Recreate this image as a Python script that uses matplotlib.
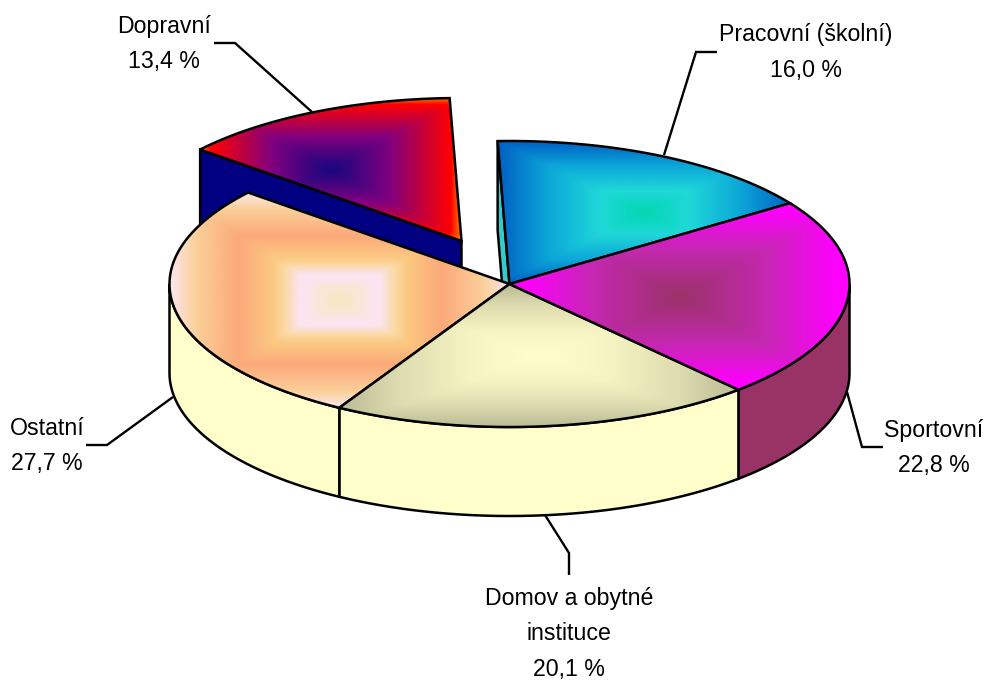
import numpy as np
import matplotlib
matplotlib.use("Agg")
import matplotlib.pyplot as plt
from matplotlib.path import Path
from matplotlib.patches import PathPatch
from matplotlib.colors import LinearSegmentedColormap

# --- data ---
categories = ["Pracovní (školní)", "Sportovní", "Domov a obytné\ninstituce", "Ostatní", "Dopravní"]
values = [16.0, 22.8, 20.1, 27.7, 13.4]

# --- style / layout ---
value_labels = ["16,0 %", "22,8 %", "20,1 %", "27,7 %", "13,4 %"]
label_xy = [(806, 52.5), (934, 448), (569, 634), (47, 446), (164, 44)]
leaders = [
    [(717, 52), (696, 52), (664, 155)],
    [(883, 447), (862, 447), (847, 392)],
    [(569, 575), (569, 553), (545, 515)],
    [(86, 445), (107, 445), (173, 397)],
    [(214, 43), (235, 43), (312, 112)],
]
side_colors = ["#33CCCC", "#993366", "#FFFFCC", "#FFFFCC", "#000080"]
gradients = [
    [(0, "#05D5B0"), (.12, "#0CD8C0"), (.30, "#20D8D8"), (.65, "#0CA8D8"), (1, "#0060C4")],
    [(0, "#993366"), (.5, "#C428B0"), (.92, "#FF00FF"), (1, "#FF00FF")],
    [(0, "#FFFFCC"), (.35, "#F6F4C2"), (.7, "#DEDCB0"), (.95, "#C0C09A"), (1, "#C0C09A")],
    [(0, "#F5E8C0"), (.12, "#FAE6D8"), (.2, "#FBE4F0"), (.24, "#FBE4F0"), (.33, "#FBD8A0"), (.40, "#FBC880"),
     (.6, "#FBA97A"), (.85, "#FBD09A"), (1, "#FDE6EE")],
    [(0, "#14087E"), (.45, "#800080"), (.92, "#FF0000"), (1, "#FF8000")],
]
CX, CY, RX, RY, DEPTH = 509.5, 284.0, 340.0, 143.0, 89.0
START = 92.0
EXPLODE = {4: (-48.0, -43.0)}
LW = 1.8

plt.rcParams["font.family"] = ["Liberation Sans", "DejaVu Sans"]
fig = plt.figure(figsize=(9.87, 6.8), dpi=100)
ax = fig.add_axes([0, 0, 1, 1])


def arc(t0, t1, ox=0.0, oy=0.0, dy=0.0):
    n = max(int(abs(t1 - t0)) * 2, 2)
    t = np.radians(np.linspace(t0, t1, n))
    return np.column_stack([CX + ox + RX * np.cos(t), CY + oy + dy - RY * np.sin(t)])


def poly(pts, fc, z, lw=LW):
    p = PathPatch(Path(np.vstack([pts, pts[:1]]), closed=True), fc=fc, ec="black", lw=lw,
                  joinstyle="miter", zorder=z)
    ax.add_patch(p)
    return p


def soften(d, k):
    kern = np.ones(k) / k
    pad = k
    out = np.pad(d, pad, mode="edge")
    out = np.apply_along_axis(lambda r: np.convolve(r, kern, mode="same"), 0, out)
    out = np.apply_along_axis(lambda r: np.convolve(r, kern, mode="same"), 1, out)
    return out[pad:-pad, pad:-pad]


def gradient_wedge(pts, stops, z):
    x0, y0 = pts.min(axis=0)
    x1, y1 = pts.max(axis=0)
    w, h = int(x1 - x0) + 2, int(y1 - y0) + 2
    xs = np.linspace(-1, 1, w)
    ys = np.linspace(-1, 1, h)
    d = np.maximum(np.abs(xs)[None, :], np.abs(ys)[:, None])
    d = soften(d, 9)
    cmap = LinearSegmentedColormap.from_list("g", stops, N=512)
    patch = poly(pts, "none", z + 0.1)
    clip = PathPatch(Path(np.vstack([pts, pts[:1]]), closed=True), fc="none", ec="none",
                     transform=ax.transData)
    im = ax.imshow(d, cmap=cmap, vmin=0, vmax=1, extent=(x0, x1, y1, y0), aspect="auto",
                   zorder=z, interpolation="bilinear")
    im.set_clip_path(clip)
    return patch


# sector angles, clockwise from START
edges = START - np.cumsum([0] + [v / sum(values) * 360 for v in values])

# visible cut faces at the back
for i in [4, 0]:
    ox, oy = EXPLODE.get(i, (0, 0))
    a0 = np.radians(edges[i])
    e = np.array([CX + ox + RX * np.cos(a0), CY + oy - RY * np.sin(a0)])
    apex = np.array([CX + ox, CY + oy])
    face = np.array([e, apex, apex + [0, DEPTH], e + [0, DEPTH]])
    poly(face, side_colors[i], 2 + i * 0.1)

# rim faces of the front half
for i in [1, 2, 3]:
    a0, a1 = edges[i], edges[i + 1]
    lo = max(a1, -180)
    hi = min(a0, 0)
    top = arc(hi, lo)
    bot = arc(lo, hi, dy=DEPTH)
    poly(np.vstack([top, bot]), side_colors[i], 3)

# top surfaces
for i, z in zip([4, 0, 3, 2, 1], [2.5, 2.6, 4, 5, 6]):
    ox, oy = EXPLODE.get(i, (0, 0))
    pts = np.vstack([[[CX + ox, CY + oy]], arc(edges[i], edges[i + 1], ox, oy)])
    gradient_wedge(pts, gradients[i], z)

# leaders and labels
for cat, val, (lx, ly), ld in zip(categories, value_labels, label_xy, leaders):
    xs, ys = zip(*ld)
    ax.plot(xs, ys, color="black", lw=1.7, zorder=8, solid_joinstyle="miter", solid_capstyle="butt")
    ax.text(lx, ly, f"{cat}\n{val}", ha="center", va="center", multialignment="center",
            fontsize=16.7, color="black", linespacing=1.72, zorder=9)

ax.set_xlim(0, 987)
ax.set_ylim(680, 0)
ax.axis("off")
fig.savefig("out.png", dpi=100, facecolor="white")
